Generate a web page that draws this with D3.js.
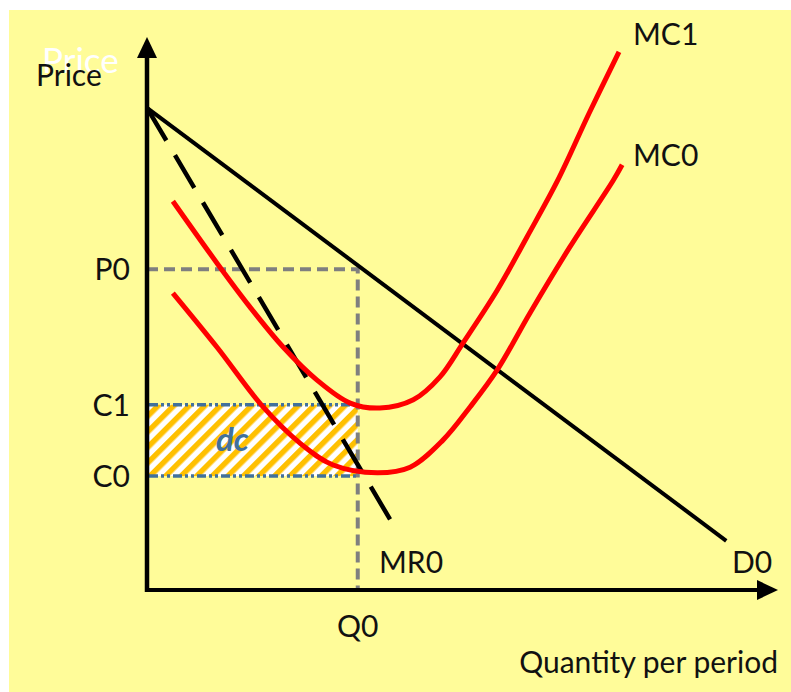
<!DOCTYPE html>
<html>
<head>
<meta charset="utf-8">
<script src="https://cdn.jsdelivr.net/npm/d3@7"></script>
<style>
  html, body { margin: 0; padding: 0; background: #ffffff; }
  svg { display: block; }
  text { font-family: Lato, "Open Sans", sans-serif; }
</style>
</head>
<body>
<svg id="chart" width="791" height="692"></svg>
<script>
// ---- data (quantity, price) in chart units ----
const mc1Q = [4.1, 11.1, 16.3, 21.6, 26.9, 32.2, 36.9, 42.2, 46.4, 50.1, 55.5, 60.2, 65.1, 70.1, 74.8];
const mc1P = [70.3, 59.1, 51.2, 43.9, 38.0, 33.8, 32.9, 34.4, 38.5, 44.7, 54.2, 63.8, 74.1, 86.3, 97.3];
const mc0Q = [4.1, 11.1, 18.4, 24.2, 29.5, 36.5, 41.7, 46.9, 51.2, 55.5, 60.7, 67.0, 73.9, 75.3];
const mc0P = [53.7, 43.9, 33.1, 26.6, 22.6, 21.2, 22.2, 27.1, 33.1, 39.8, 50.1, 62.0, 74.1, 76.9];
const demandQ = [0, 91.8];
const demandP = [87.2, 8.9];
const mrQ = [0, 39.8];
const mrP = [87.2, 10.3];
const Q0 = 33.4;
const P0 = 58.0;
const C1 = 33.5;
const C0 = 20.6;
const yTickLabels = [{ label: "P0", v: P0 }, { label: "C1", v: C1 }, { label: "C0", v: C0 }];
const xTickLabels = [{ label: "Q0", v: Q0 }];
const curveLabels = ["MC1", "MC0", "MR0", "D0"];
const axisTitles = { y: "Price", x: "Quantity per period" };

// ---- layout ----
const svg = d3.select("#chart");
const x = d3.scaleLinear().domain([0, 100]).range([147, 778]);
const y = d3.scaleLinear().domain([0, 100]).range([590, 37]);

// background
svg.append("rect").attr("x", 9).attr("y", 10).attr("width", 782).attr("height", 682).attr("fill", "#fffc99");

// hatch pattern
const defs = svg.append("defs");
const pat = defs.append("pattern")
  .attr("id", "hatch").attr("patternUnits", "userSpaceOnUse")
  .attr("width", 11).attr("height", 11)
  .attr("patternTransform", "rotate(45)");
pat.append("rect").attr("width", 11).attr("height", 11).attr("fill", "#ffffff");
pat.append("rect").attr("x", 0).attr("y", 0).attr("width", 5.5).attr("height", 11).attr("fill", "#ffc000");

svg.append("rect")
  .attr("x", x(0)).attr("y", y(C1))
  .attr("width", x(Q0) - x(0)).attr("height", y(C0) - y(C1))
  .attr("fill", "url(#hatch)");

// blue dash-dot lines at C1, C0
[C1, C0].forEach(v => {
  svg.append("line")
    .attr("x1", x(0) + 2).attr("x2", x(Q0)).attr("y1", y(v)).attr("y2", y(v))
    .attr("stroke", "#41719c").attr("stroke-width", 3.5)
    .attr("stroke-dasharray", "9,3,3,3,3,3");
});

// gray dashed P0 / Q0 guides
svg.append("path")
  .attr("d", d3.line()([[x(0), y(P0)], [x(Q0), y(P0)], [x(Q0), y(0)]]))
  .attr("fill", "none").attr("stroke", "#7f7f7f").attr("stroke-width", 4)
  .attr("stroke-dasharray", "11,6");

// "dc" label
svg.append("text").attr("x", (x(0) + x(Q0)) / 2 - 20).attr("y", (y(C1) + y(C0)) / 2 + 11)
  .attr("text-anchor", "middle").attr("font-size", 33).attr("font-style", "italic").attr("font-weight", "bold")
  .attr("fill", "#41719c").text("dc");

const line = d3.line().x(d => x(d[0])).y(d => y(d[1]));

// demand
svg.append("path").attr("d", line(demandQ.map((q, i) => [q, demandP[i]])))
  .attr("fill", "none").attr("stroke", "#000").attr("stroke-width", 4);

// MR dashed
svg.append("path").attr("d", line(mrQ.map((q, i) => [q, mrP[i]])))
  .attr("fill", "none").attr("stroke", "#000").attr("stroke-width", 4.5)
  .attr("stroke-dasharray", "38,17");

// MC curves
const curve = d3.line().x(d => x(d[0])).y(d => y(d[1])).curve(d3.curveCatmullRom.alpha(0.5));
[[mc1Q, mc1P], [mc0Q, mc0P]].forEach(([qs, ps]) => {
  svg.append("path").attr("d", curve(qs.map((q, i) => [q, ps[i]])))
    .attr("fill", "none").attr("stroke", "#ff0000").attr("stroke-width", 5).attr("stroke-linecap", "butt");
});

// axes
svg.append("line").attr("x1", x(0)).attr("x2", x(0)).attr("y1", y(0) + 2).attr("y2", y(100) + 18)
  .attr("stroke", "#000").attr("stroke-width", 4.5);
svg.append("path").attr("d", `M${x(0)},${y(100)} L${x(0) - 10},${y(100) + 21} L${x(0) + 10},${y(100) + 21} Z`).attr("fill", "#000");
svg.append("line").attr("x1", x(0) - 2).attr("x2", x(100) - 18).attr("y1", y(0)).attr("y2", y(0))
  .attr("stroke", "#000").attr("stroke-width", 4);
svg.append("path").attr("d", `M${x(100)},${y(0)} L${x(100) - 21},${y(0) - 10} L${x(100) - 21},${y(0) + 10} Z`).attr("fill", "#000");

// tick labels
const fs = 30;
yTickLabels.forEach(t => {
  svg.append("text").attr("x", 130).attr("y", y(t.v) + 11).attr("text-anchor", "end")
    .attr("font-size", fs).attr("fill", "#111").text(t.label);
});
xTickLabels.forEach(t => {
  svg.append("text").attr("x", x(t.v)).attr("y", 637).attr("text-anchor", "middle")
    .attr("font-size", fs).attr("fill", "#111").text(t.label);
});

// curve labels
const labelPos = { "MC1": [633, 45], "MC0": [633, 166], "MR0": [379, 573], "D0": [732, 573] };
curveLabels.forEach(l => {
  svg.append("text").attr("x", labelPos[l][0]).attr("y", labelPos[l][1])
    .attr("font-size", fs).attr("fill", "#111").text(l);
});

// axis titles
svg.append("text").attr("x", 42).attr("y", 73).attr("font-size", 35).attr("fill", "#ffffff").text(axisTitles.y);
svg.append("text").attr("x", 36).attr("y", 86).attr("font-size", fs).attr("fill", "#111").text(axisTitles.y);
svg.append("text").attr("x", 778).attr("y", 673).attr("text-anchor", "end")
  .attr("font-size", fs).attr("fill", "#111").text(axisTitles.x);
</script>
</body>
</html>
